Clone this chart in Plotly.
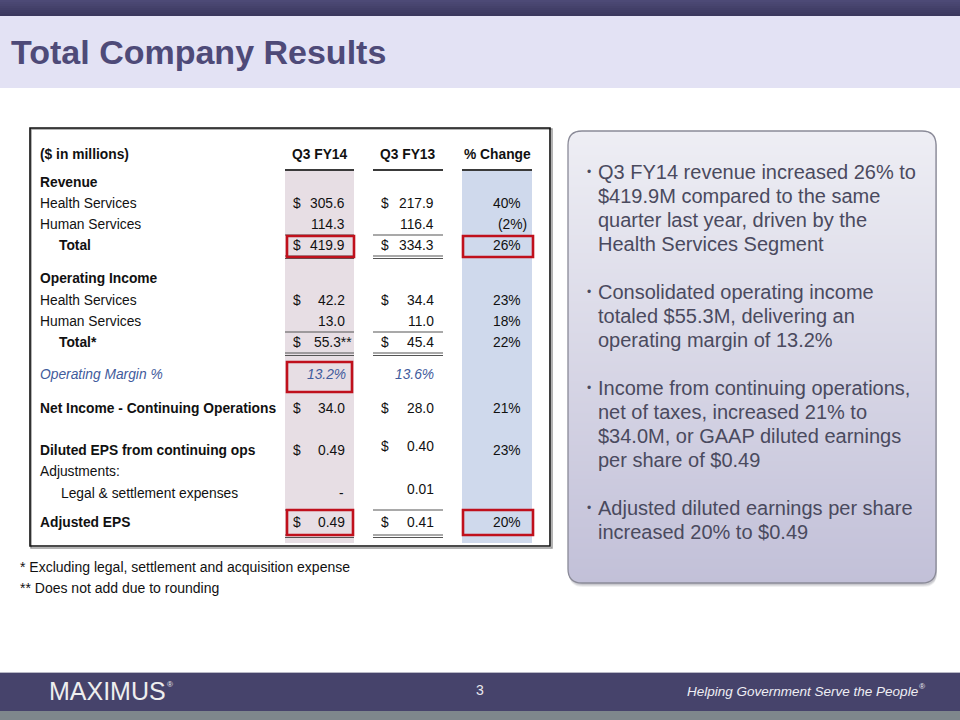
import math
import plotly.graph_objects as go

# ---------------- data ----------------
title_text = "Total Company Results"
col_headers = ["($ in millions)", "Q3 FY14", "Q3 FY13", "% Change"]
row_labels = ["Revenue", "Health Services", "Human Services", "Total",
              "Operating Income", "Health Services", "Human Services", "Total*",
              "Operating Margin %", "Net Income - Continuing Operations",
              "Diluted EPS from continuing ops", "Adjustments:",
              "Legal & settlement expenses", "Adjusted EPS"]
fy14_values = [None, 305.6, 114.3, 419.9, None, 42.2, 13.0, 55.3, 13.2, 34.0, 0.49, None, 0.0, 0.49]
fy13_values = [None, 217.9, 116.4, 334.3, None, 34.4, 11.0, 45.4, 13.6, 28.0, 0.40, None, 0.01, 0.41]
pct_change = [None, 40, -2, 26, None, 23, 18, 22, None, 21, 23, None, None, 20]
fy14_suffix = ["", "", "", "", "", "", "", "**", "", "", "", "", "", ""]
show_dollar = [False, True, False, True, False, True, False, True, False, True, True, False, False, True]
value_kind = ["", "m", "m", "m", "", "m", "m", "m", "pct", "m", "eps", "", "eps", "eps"]
row_style = ["bold", "", "", "boldind", "bold", "", "", "boldind", "italic", "bold", "bold", "", "ind", "bold"]

bullets = [
    ["Q3 FY14 revenue increased 26% to", "$419.9M compared to the same",
     "quarter last year, driven by the", "Health Services Segment"],
    ["Consolidated operating income", "totaled $55.3M, delivering an",
     "operating margin of 13.2%"],
    ["Income from continuing operations,", "net of taxes, increased 21% to",
     "$34.0M, or GAAP diluted earnings", "per share of $0.49"],
    ["Adjusted diluted earnings per share", "increased 20% to $0.49"],
]
footnotes = ["* Excluding legal, settlement and acquisition expense",
             "** Does not add due to rounding"]
page_number = "3"
brand = "MAXIMUS"
tagline = "Helping Government Serve the People"

# ---------------- layout (pixel positions) ----------------
row_y = [182, 203, 224, 245, 278, 300, 321, 342, 374, 408, 450, 471, 493, 522]
fy13_dy = [0, 0, 0, 0, 0, 0, 0, 0, 0, 0, -4, 0, -4, 0]
FONT = "Liberation Sans, Arial, sans-serif"
TXT = "#111111"
TS = 13.8  # table font size

shapes = []
ann = []


def rect(x0, y0, x1, y1, fill=None, line=None, lw=0, layer="above"):
    d = dict(type="rect", xref="x", yref="y", x0=x0, y0=y0, x1=x1, y1=y1,
             layer=layer, line=dict(width=lw, color=line or "rgba(0,0,0,0)"))
    if fill:
        d["fillcolor"] = fill
    shapes.append(d)


def hline(x0, x1, y, color="#444444", w=1.2):
    shapes.append(dict(type="line", xref="x", yref="y", x0=x0, x1=x1, y0=y, y1=y,
                       line=dict(color=color, width=w)))


def text(x, y, s, size=TS, color=TXT, xanchor="left", bold=False, italic=False, family=FONT):
    if bold:
        s = "<b>" + s + "</b>"
    if italic:
        s = "<i>" + s + "</i>"
    ann.append(dict(x=x, y=y, xref="x", yref="y", text=s, showarrow=False,
                    xanchor=xanchor, yanchor="middle", align="left",
                    font=dict(size=size, color=color, family=family)))


def rpath(x0, y0, x1, y1, r):
    return (f"M {x0+r},{y0} L {x1-r},{y0} Q {x1},{y0} {x1},{y0+r} L {x1},{y1-r} "
            f"Q {x1},{y1} {x1-r},{y1} L {x0+r},{y1} Q {x0},{y1} {x0},{y1-r} "
            f"L {x0},{y0+r} Q {x0},{y0} {x0+r},{y0} Z")


def mix(c1, c2, t):
    a = [int(c1[i:i+2], 16) for i in (1, 3, 5)]
    b = [int(c2[i:i+2], 16) for i in (1, 3, 5)]
    return "#" + "".join(f"{round(a[k] + (b[k]-a[k])*t):02x}" for k in range(3))


# header bands
steps = 8
for i in range(steps):
    rect(0, i * 2, 960, i * 2 + 2.2, fill=mix("#4d4a76", "#3a375d", i / (steps - 1)))
rect(0, 16, 960, 88, fill="#e3e2f4")
text(9, 52, title_text, size=34, color="#4e4a78", bold=True)

# table box
rect(31, 129, 552, 548, fill=None, line="#9a9a9a", lw=1.5)
rect(30, 128, 550, 546, fill=None, line="#111111", lw=1.6)

# column shading
c14 = (285, 354)
c13 = (373, 443)
cp = (462, 532)
rect(c14[0], 171, c14[1], 543, fill="#e7dee4", layer="below")
rect(cp[0], 171, cp[1], 543, fill="#cfd9ec", layer="below")

# headers
text(38, 154, col_headers[0], bold=True)
text((c14[0] + c14[1]) / 2, 154, col_headers[1], bold=True, xanchor="center")
text((c13[0] + c13[1]) / 2, 154, col_headers[2], bold=True, xanchor="center")
text((cp[0] + cp[1]) / 2, 154, col_headers[3], bold=True, xanchor="center")
for c in (c14, c13, cp):
    hline(c[0], c[1], 170, color="#3a3a3a", w=2.2)

# rule lines (single above totals, double below)
for ys, yd in ((235, 256), (332, 353), (510, 535)):
    for c in (c14, c13):
        hline(c[0], c[1], ys, color="#555555", w=1.2)
        hline(c[0], c[1], yd, color="#555555", w=1.2)
        hline(c[0], c[1], yd + 2.5, color="#555555", w=1.2)


def fmt(v, kind):
    if v is None:
        return None
    if kind == "eps":
        return "-" if v == 0 else f"{v:.2f}"
    if kind == "pct":
        return f"{v:.1f}%"
    return f"{v:.1f}"


for i, lab in enumerate(row_labels):
    y = row_y[i]
    st = row_style[i]
    if st == "italic":
        text(38, y, lab, italic=True, color="#3f5b9c")
    elif st == "boldind":
        text(57, y, lab, bold=True)
    elif st == "ind":
        text(59, y, lab)
    else:
        text(38, y, lab, bold=(st == "bold"))

    kind = value_kind[i]
    v14 = fmt(fy14_values[i], kind)
    v13 = fmt(fy13_values[i], kind)
    if kind == "pct":
        text(348, y, v14, italic=True, color="#3f5b9c", xanchor="right")
        text(436, y, v13, italic=True, color="#3f5b9c", xanchor="right")
        continue
    if v14 is not None:
        if show_dollar[i]:
            text(291, y, "$")
        xr = 347 + (7 if fy14_suffix[i] else 0) + (-1 if v14 == "-" else 0)
        text(xr, y, v14 + fy14_suffix[i], xanchor="right")
    if v13 is not None:
        if show_dollar[i]:
            text(379, y + fy13_dy[i], "$")
        text(436, y + fy13_dy[i], v13, xanchor="right")
    p = pct_change[i]
    if p is not None:
        if p < 0:
            text(529, y, f"({-p}%)", xanchor="right")
        else:
            text(523, y, f"{p}%", xanchor="right")

# red highlight boxes
RED = "#c0101c"
for (x0, y0, x1, y1) in [(287, 236, 354, 257), (463, 236, 533, 257),
                         (287, 362, 352, 392), (287, 510, 353, 535),
                         (463, 510, 533, 535)]:
    rect(x0, y0, x1, y1, line=RED, lw=2.6)

# footnotes
text(18, 567, footnotes[0], size=14)
text(18, 588, footnotes[1], size=14)

# right panel: shadow, gradient, border
bx0, by0, bx1, by1, R = 568, 131, 936, 583, 14
for k, op in ((4, 0.08), (3, 0.10), (2, 0.12)):
    shapes.append(dict(type="path", xref="x", yref="y", path=rpath(bx0 + 1, by0 + k, bx1 + 1, by1 + k, R),
                       fillcolor=f"rgba(60,60,80,{op})", line=dict(width=0)))
hstep = 2
yy = by0
while yy < by1:
    ym = yy + hstep / 2
    if ym < by0 + R:
        dy = by0 + R - ym
        ins = R - math.sqrt(max(R * R - dy * dy, 0))
    elif ym > by1 - R:
        dy = ym - (by1 - R)
        ins = R - math.sqrt(max(R * R - dy * dy, 0))
    else:
        ins = 0
    t = (ym - by0) / (by1 - by0)
    rect(bx0 + ins, yy, bx1 - ins, min(yy + hstep + 0.6, by1), fill=mix("#eeeef4", "#c2c0d8", t))
    yy += hstep
shapes.append(dict(type="path", xref="x", yref="y", path=rpath(bx0, by0, bx1, by1, R),
                   line=dict(color="#8a8a98", width=1.3)))

bullet_start = [172, 292, 388, 508]
LH = 24
for b, lines in enumerate(bullets):
    for j, ln in enumerate(lines):
        y = bullet_start[b] + j * LH
        if j == 0:
            text(585, y, "•", size=12, color="#4a4a5e")
        text(596, y, ln, size=20, color="#4a4a5e")

# footer
rect(0, 672, 960, 711, fill="#46436b")
hline(0, 960, 672.5, color="#b8b8c6", w=1)
rect(0, 711, 960, 720, fill="#7e878c")
text(47, 691, brand, size=25, color="#eeeeee")
text(165, 684, "®", size=8, color="#eeeeee")
text(480, 690, page_number, size=14, color="#e8e8ee", xanchor="center")
text(685, 691, tagline, size=13.5, color="#eeeef4", italic=True)
text(917, 686, "®", size=8, color="#eeeef4", italic=True)

fig = go.Figure()
fig.add_trace(go.Scatter(x=[0, 960], y=[0, 720], mode="markers",
                         marker=dict(opacity=0), hoverinfo="skip", showlegend=False))
fig.update_layout(
    width=960, height=720, margin=dict(l=0, r=0, t=0, b=0),
    paper_bgcolor="white", plot_bgcolor="white",
    xaxis=dict(range=[0, 960], visible=False, fixedrange=True),
    yaxis=dict(range=[720, 0], visible=False, fixedrange=True),
    shapes=shapes, annotations=ann, font=dict(family=FONT),
)
fig.write_html("out.html", config={"displayModeBar": False},
               post_script="document.body.style.margin='0';document.body.style.overflow='hidden';")
